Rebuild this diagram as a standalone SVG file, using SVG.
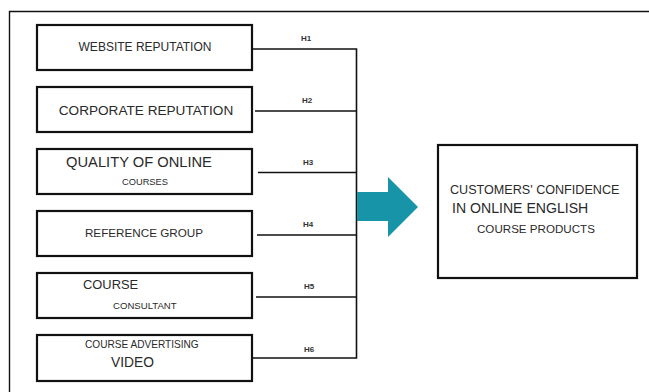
<svg xmlns="http://www.w3.org/2000/svg" width="649" height="392" viewBox="0 0 649 392">
  <style>
    .box { fill: #ffffff; stroke: #111111; stroke-width: 2.2; }
    .t { font-family: "Liberation Sans", Arial, sans-serif; fill: #2a2a2a; }
    .h { font-family: "Liberation Sans", Arial, sans-serif; fill: #333333; font-size: 8px; font-weight: bold; }
    .wire { fill: none; stroke: #111111; stroke-width: 1.6; }
    .frame { fill: none; stroke: #111111; stroke-width: 1.4; }
  </style>
  <rect width="649" height="392" fill="#ffffff"/>

  <!-- page frame -->
  <path class="frame" d="M9.5,392 V11.5 H649"/>

  <!-- connectors -->
  <g id="connectors">
    <path class="wire" d="M252,49 H356.5 V358 H251"/>
    <path class="wire" d="M255,111 H356.5"/>
    <path class="wire" d="M258,172.5 H356.5"/>
    <path class="wire" d="M257,235 H356.5"/>
    <path class="wire" d="M256,297 H356.5"/>
    <text class="h" x="306" y="41" text-anchor="middle">H1</text>
    <text class="h" x="307" y="103" text-anchor="middle">H2</text>
    <text class="h" x="308" y="165" text-anchor="middle">H3</text>
    <text class="h" x="308" y="227" text-anchor="middle">H4</text>
    <text class="h" x="309" y="289" text-anchor="middle">H5</text>
    <text class="h" x="309" y="352" text-anchor="middle">H6</text>
    <polygon id="arrow" fill="#1794a7" points="357,192 388,192 388,177 418,207 388,237 388,221 357,221"/>
  </g>

  <g id="n1">
    <rect class="box" x="37" y="25" width="215" height="45"/>
    <text class="t" x="145" y="51" font-size="12" text-anchor="middle">WEBSITE REPUTATION</text>
  </g>
  <g id="n2">
    <rect class="box" x="37" y="87" width="215" height="45"/>
    <text class="t" x="146" y="115" font-size="13.6" text-anchor="middle">CORPORATE REPUTATION</text>
  </g>
  <g id="n3">
    <rect class="box" x="37" y="149" width="215" height="45"/>
    <text class="t" x="139" y="167" font-size="14.7" text-anchor="middle">QUALITY OF ONLINE</text>
    <text class="t" x="145" y="185" font-size="9.3" text-anchor="middle">COURSES</text>
  </g>
  <g id="n4">
    <rect class="box" x="37" y="211" width="215" height="45"/>
    <text class="t" x="144" y="237" font-size="11.7" text-anchor="middle">REFERENCE GROUP</text>
  </g>
  <g id="n5">
    <rect class="box" x="37" y="273" width="215" height="45"/>
    <text class="t" x="83" y="289" font-size="12.9">COURSE</text>
    <text class="t" x="113" y="309" font-size="9.6">CONSULTANT</text>
  </g>
  <g id="n6">
    <rect class="box" x="37" y="335" width="215" height="46"/>
    <text class="t" x="85" y="348" font-size="10.1">COURSE ADVERTISING</text>
    <text class="t" x="111" y="367" font-size="13.8">VIDEO</text>
  </g>

  <g id="outcome">
    <rect class="box" x="438" y="145" width="199" height="133"/>
    <text class="t" x="450" y="194" font-size="12.6">CUSTOMERS' CONFIDENCE</text>
    <text class="t" x="452" y="213" font-size="14.1">IN ONLINE ENGLISH</text>
    <text class="t" x="477" y="233" font-size="11.6">COURSE PRODUCTS</text>
  </g>
</svg>
